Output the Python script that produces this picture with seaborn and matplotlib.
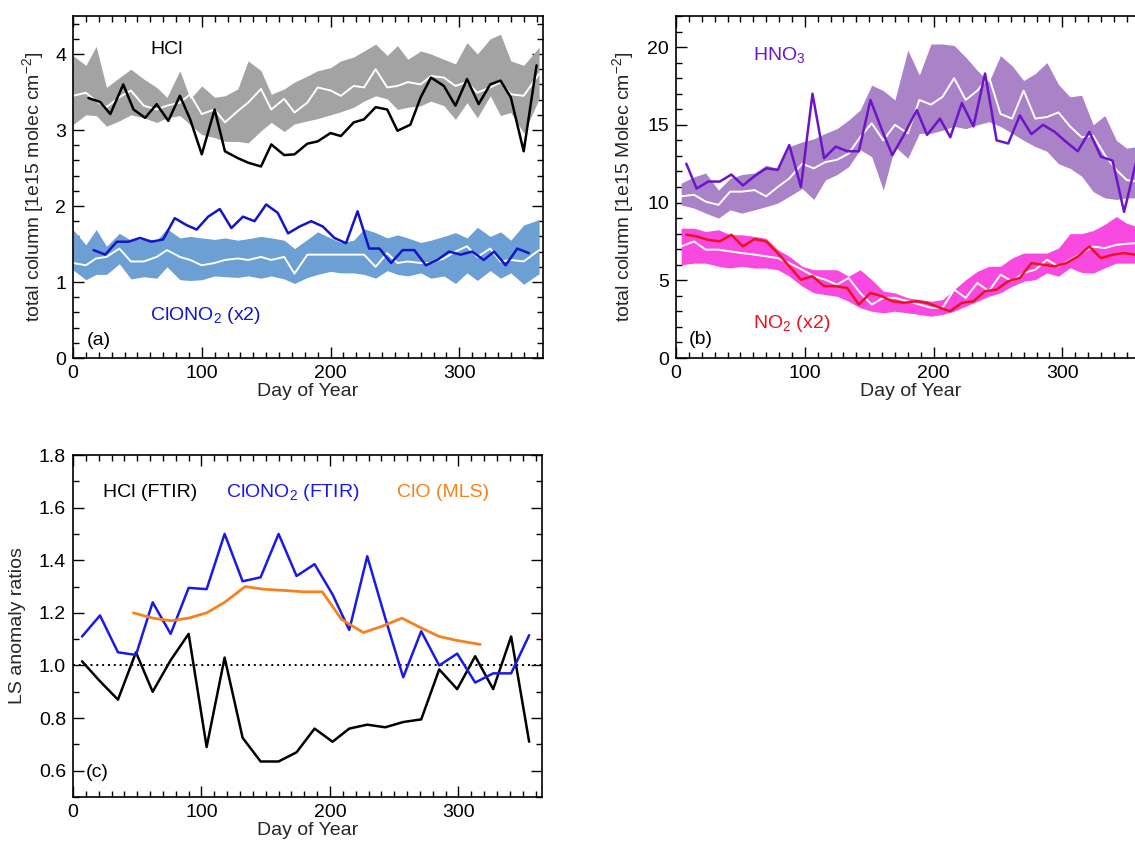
import matplotlib
matplotlib.use("Agg")
import matplotlib.pyplot as plt
import seaborn as sns
from matplotlib.ticker import MultipleLocator

# ---------------- Panel (a): HCl and ClONO2 ----------------
band_days_a = [0, 10, 18, 26, 36, 45, 55, 65, 73, 83, 91, 100, 110, 118, 128, 136, 146, 154, 164, 172,
               182, 190, 200, 208, 218, 226, 235, 244, 252, 260, 270, 278, 288, 297, 306, 314, 324, 332, 340, 350, 362]
hcl_upper = [3.98, 3.85, 4.10, 3.56, 3.69, 3.80, 3.67, 3.56, 3.43, 3.78, 3.41, 3.58, 3.43, 3.45, 3.54, 3.91, 3.78, 3.47, 3.54, 3.63,
             3.71, 3.78, 3.82, 3.91, 3.96, 4.04, 4.13, 3.98, 4.11, 3.93, 4.04, 4.00, 3.93, 3.87, 4.15, 4.00, 4.20, 4.26, 3.91, 3.85, 4.09]
hcl_lower = [3.07, 3.20, 3.19, 3.05, 3.12, 3.20, 3.16, 3.10, 3.16, 3.19, 3.07, 2.94, 2.90, 2.85, 2.85, 2.83, 2.99, 3.10, 2.98, 3.08,
             3.12, 3.15, 3.20, 3.24, 3.30, 3.38, 3.45, 3.41, 3.27, 3.30, 3.32, 3.38, 3.32, 3.14, 3.36, 3.16, 3.45, 3.19, 3.23, 2.96, 3.41]
hcl_mean = [3.45, 3.49, 3.38, 3.30, 3.43, 3.52, 3.32, 3.27, 3.32, 3.36, 3.47, 3.21, 3.27, 3.10, 3.25, 3.36, 3.54, 3.27, 3.41, 3.23,
            3.36, 3.56, 3.52, 3.45, 3.58, 3.56, 3.80, 3.56, 3.58, 3.63, 3.60, 3.71, 3.69, 3.58, 3.63, 3.49, 3.56, 3.63, 3.47, 3.45, 3.74]
clono2_upper = [1.69, 1.49, 1.69, 1.47, 1.64, 1.55, 1.57, 1.55, 1.70, 1.58, 1.60, 1.58, 1.56, 1.58, 1.55, 1.57, 1.60, 1.58, 1.55, 1.44,
                1.56, 1.66, 1.58, 1.52, 1.55, 1.70, 1.65, 1.58, 1.62, 1.58, 1.52, 1.55, 1.60, 1.65, 1.58, 1.72, 1.60, 1.66, 1.55, 1.75, 1.82]
clono2_lower = [1.16, 1.03, 1.10, 1.10, 1.24, 1.04, 1.07, 1.05, 1.20, 1.03, 1.02, 1.03, 1.08, 1.07, 1.06, 1.08, 1.05, 1.08, 1.04, 0.98,
                1.06, 1.10, 1.14, 1.12, 1.12, 1.10, 1.05, 1.15, 1.10, 1.08, 1.12, 1.05, 1.08, 0.98, 1.12, 1.02, 1.15, 1.05, 1.12, 0.97, 1.11]
clono2_mean = [1.25, 1.22, 1.31, 1.33, 1.44, 1.27, 1.27, 1.33, 1.42, 1.33, 1.29, 1.22, 1.25, 1.29, 1.31, 1.29, 1.33, 1.29, 1.33, 1.11,
               1.36, 1.36, 1.36, 1.36, 1.36, 1.36, 1.20, 1.38, 1.25, 1.27, 1.25, 1.25, 1.31, 1.40, 1.47, 1.33, 1.44, 1.27, 1.29, 1.27, 1.42]

hcl_days = [12, 21, 29, 39, 47, 56, 65, 74, 83, 91, 100, 110, 118, 128, 136, 146, 154, 164, 172, 182,
            190, 200, 208, 218, 226, 235, 244, 252, 262, 270, 278, 288, 297, 306, 315, 324, 332, 340, 350, 360]
hcl_2020 = [3.42, 3.37, 3.21, 3.60, 3.27, 3.16, 3.34, 3.12, 3.45, 3.14, 2.68, 3.27, 2.72, 2.63, 2.57, 2.52, 2.81, 2.67, 2.68, 2.82,
            2.85, 2.96, 2.92, 3.10, 3.14, 3.30, 3.27, 2.99, 3.07, 3.43, 3.69, 3.58, 3.32, 3.67, 3.34, 3.60, 3.65, 3.43, 2.72, 3.85]
clono2_days = [16, 25, 34, 43, 52, 61, 70, 79, 88, 96, 105, 114, 123, 132, 141, 150, 159, 167, 176, 185,
               194, 203, 212, 221, 230, 238, 247, 256, 265, 274, 283, 292, 301, 310, 319, 327, 336, 345, 354]
clono2_2020 = [1.42, 1.36, 1.53, 1.53, 1.58, 1.53, 1.56, 1.84, 1.75, 1.69, 1.86, 1.96, 1.71, 1.86, 1.80, 2.02, 1.91, 1.64, 1.73, 1.80,
               1.73, 1.58, 1.51, 1.93, 1.44, 1.44, 1.25, 1.42, 1.42, 1.22, 1.29, 1.40, 1.36, 1.40, 1.29, 1.40, 1.22, 1.44, 1.38]

# ---------------- Panel (b): HNO3 and NO2 ----------------
band_days_b = [4, 14, 23, 33, 42, 51, 61, 70, 79, 88, 98, 107, 116, 125, 134, 143, 152, 161, 170, 180,
               189, 198, 207, 216, 225, 234, 243, 252, 261, 270, 279, 288, 297, 306, 315, 324, 333, 342, 350, 358]
hno3_upper = [11.25, 11.65, 11.9, 10.8, 11.55, 11.8, 11.9, 12.4, 12.2, 13.6, 13.9, 14.1, 14.45, 14.75, 15.3, 15.95, 17.55, 17.2, 16.6, 19.8,
              18.2, 20.2, 20.2, 20.1, 19.35, 18.5, 17.75, 19.45, 18.8, 17.85, 18.3, 19.0, 17.6, 16.8, 16.9, 15.0, 15.6, 14.0, 13.5, 13.6]
hno3_lower = [9.85, 9.64, 9.32, 9.0, 9.53, 9.32, 9.53, 9.74, 9.96, 10.4, 10.9, 10.2, 11.45, 11.8, 12.3, 13.4, 12.95, 10.8, 13.6, 12.85,
              14.45, 14.45, 14.65, 14.9, 14.75, 15.0, 15.2, 14.9, 14.45, 14.0, 13.6, 13.3, 12.5, 12.2, 11.7, 10.7, 10.3, 10.2, 10.3, 10.3]
hno3_mean = [10.4, 10.5, 10.06, 9.85, 10.7, 10.7, 10.8, 10.4, 11.0, 11.55, 12.5, 12.2, 12.6, 12.75, 13.15, 14.2, 15.1, 14.0, 15.0, 14.45,
             16.6, 16.3, 16.8, 18.0, 16.6, 17.2, 18.1, 15.7, 15.4, 17.2, 15.4, 15.5, 15.8, 14.9, 14.2, 14.3, 13.06, 12.1, 11.45, 11.35]
no2_upper = [8.35, 8.35, 8.14, 8.25, 7.93, 7.93, 7.82, 7.7, 6.97, 6.54, 5.9, 5.68, 5.68, 5.68, 5.26, 5.68, 5.04, 4.3, 4.19, 3.87,
             3.76, 3.65, 3.76, 4.4, 5.04, 5.58, 5.9, 5.9, 6.43, 6.75, 6.75, 6.75, 7.07, 8.0, 8.0, 8.2, 8.6, 9.1, 8.67, 8.45]
no2_lower = [6.0, 6.1, 6.1, 5.9, 5.79, 5.9, 5.79, 5.79, 5.68, 5.26, 4.62, 4.19, 4.08, 3.97, 3.65, 3.23, 3.01, 2.9, 3.01, 2.9,
             2.8, 2.69, 2.8, 3.01, 3.33, 3.65, 3.97, 4.19, 4.62, 4.94, 5.04, 5.47, 5.26, 5.8, 5.5, 5.46, 5.8, 6.1, 6.1, 6.1]
no2_mean = [7.18, 7.5, 6.97, 6.97, 6.86, 6.75, 6.65, 6.54, 6.43, 6.1, 5.68, 5.26, 5.04, 4.72, 5.15, 4.19, 3.44, 3.87, 3.87, 3.65,
            3.44, 3.23, 3.23, 4.4, 3.87, 4.83, 4.3, 5.36, 4.94, 5.47, 5.68, 6.32, 5.9, 6.3, 6.75, 7.17, 7.07, 7.28, 7.35, 7.39]

line_days_b = [8, 16, 25, 34, 43, 52, 61, 70, 79, 88, 97, 106, 115, 124, 133, 142, 151, 160, 168, 177,
               187, 195, 205, 213, 222, 231, 240, 249, 258, 267, 276, 285, 294, 303, 312, 321, 330, 339, 348, 357]
hno3_2020 = [12.5, 10.9, 11.35, 11.35, 11.8, 11.1, 11.7, 12.2, 12.1, 13.7, 11.0, 17.0, 12.85, 13.6, 13.3, 13.3, 16.6, 14.65, 13.05, 14.35,
             15.95, 14.35, 15.4, 14.2, 16.4, 14.9, 18.3, 14.0, 13.8, 15.6, 14.4, 15.0, 14.55, 13.9, 13.3, 14.55, 12.95, 12.7, 9.4, 12.5]
no2_2020 = [7.93, 7.82, 7.6, 7.5, 7.93, 7.18, 7.65, 7.5, 6.75, 5.9, 5.04, 5.26, 4.62, 4.62, 4.5, 3.44, 4.19, 3.97, 3.65, 3.55,
            3.65, 3.55, 3.23, 3.01, 3.55, 3.65, 4.3, 4.4, 4.94, 5.15, 6.1, 6.0, 5.9, 6.1, 6.53, 7.17, 6.42, 6.64, 6.75, 6.64]

# ---------------- Panel (c): LS anomaly ratios ----------------
ratio_days = [7, 21, 35, 49, 62, 76, 90, 104, 118, 132, 146, 160, 174, 188, 202, 215, 229, 243, 257, 271, 285, 299, 313, 327, 341, 355]
hcl_ratio = [1.016, 0.94, 0.87, 1.05, 0.90, 1.02, 1.12, 0.69, 1.03, 0.725, 0.635, 0.635, 0.67, 0.76, 0.71, 0.76, 0.775, 0.765,
             0.785, 0.795, 0.985, 0.91, 1.035, 0.91, 1.11, 0.71]
clono2_ratio = [1.11, 1.19, 1.05, 1.04, 1.24, 1.12, 1.295, 1.29, 1.50, 1.32, 1.335, 1.50, 1.34, 1.385, 1.27, 1.135, 1.415, 1.18,
                0.955, 1.13, 1.00, 1.045, 0.935, 0.97, 0.97, 1.115]
clo_days = [47, 62, 76, 90, 104, 118, 134, 148, 165, 179, 194, 209, 226, 241, 256, 270, 285, 299, 317]
clo_ratio = [1.20, 1.18, 1.17, 1.18, 1.20, 1.24, 1.30, 1.29, 1.285, 1.28, 1.28, 1.175, 1.125, 1.15, 1.18, 1.145, 1.11, 1.095, 1.08]

# ---------------- styling ----------------
sns.set_theme(style="ticks")
plt.rcParams['font.family'] = ['Liberation Sans', 'DejaVu Sans']
plt.rcParams['mathtext.fontset'] = 'custom'
plt.rcParams['mathtext.rm'] = 'Liberation Sans'
plt.rcParams['mathtext.it'] = 'Liberation Sans:italic'
plt.rcParams['mathtext.bf'] = 'Liberation Sans:bold'

FS = 14
W, H = 1135, 846
fig = plt.figure(figsize=(W / 100, H / 100), dpi=100)


def add_axes(l, t, r, b):
    return fig.add_axes([l / W, 1 - b / H, (r - l) / W, (b - t) / H])


axa = add_axes(73, 16, 543, 358)
axb = add_axes(676, 16, 1146, 358)
axc = add_axes(73, 455, 542, 797)


def style(ax, ylim, ymaj, ymin):
    ax.set_xlim(0, 365)
    ax.set_ylim(*ylim)
    ax.xaxis.set_major_locator(MultipleLocator(100))
    ax.xaxis.set_minor_locator(MultipleLocator(10))
    ax.yaxis.set_major_locator(MultipleLocator(ymaj))
    ax.yaxis.set_minor_locator(MultipleLocator(ymin))
    ax.tick_params(which='both', direction='in', top=True, right=True,
                   labelsize=FS, colors='black', width=1.0)
    ax.tick_params(which='major', length=8, pad=5)
    ax.tick_params(which='minor', length=4)
    for s in ax.spines.values():
        s.set_linewidth(1.2)
        s.set_color('black')
    ax.set_xlabel('Day of Year', fontsize=FS, labelpad=1)


def band(ax, days, lo, hi, mean, color):
    ax.fill_between(days, lo, hi, color=color, lw=0, zorder=1)
    sns.lineplot(x=days, y=mean, ax=ax, color='white', lw=1.4, estimator=None, sort=False, zorder=2)


def line(ax, days, vals, color, lw=1.8):
    sns.lineplot(x=days, y=vals, ax=ax, color=color, lw=lw, estimator=None, sort=False, zorder=3)


# Panel (a)
band(axa, band_days_a, hcl_lower, hcl_upper, hcl_mean, '#a3a3a3')
band(axa, band_days_a, clono2_lower, clono2_upper, clono2_mean, '#6c9fd4')
line(axa, hcl_days, hcl_2020, 'black')
line(axa, clono2_days, clono2_2020, '#1414c8')
style(axa, (0, 4.5), 1, 0.2)
axa.set_ylabel('total column [1e15 molec cm$^{-2}$]', fontsize=FS)
axa.yaxis.set_label_coords(-0.058, 0.5)
axa.text(60, 4.0, 'HCl', fontsize=FS, color='black', va='baseline')
axa.text(60, 0.5, 'ClONO$_2$ (x2)', fontsize=FS, color='#1414c8', va='baseline')
axa.text(11, 0.17, '(a)', fontsize=FS, color='black', va='baseline')

# Panel (b)
band(axb, band_days_b, hno3_lower, hno3_upper, hno3_mean, '#aa82c8')
band(axb, band_days_b, no2_lower, no2_upper, no2_mean, '#f84ae0')
line(axb, line_days_b, hno3_2020, '#6e14c8')
line(axb, line_days_b, no2_2020, '#e8141e')
style(axb, (0, 22), 5, 1)
axb.set_ylabel('total column [1e15 Molec cm$^{-2}$]', fontsize=FS)
axb.yaxis.set_label_coords(-0.085, 0.5)
axb.text(60, 19.2, 'HNO$_3$', fontsize=FS, color='#6e14c8', va='baseline')
axb.text(60, 1.95, 'NO$_2$ (x2)', fontsize=FS, color='#e8141e', va='baseline')
axb.text(10, 0.9, '(b)', fontsize=FS, color='black', va='baseline')

# Panel (c)
axc.axhline(1.0, color='black', lw=1.4, ls=(0, (1, 2)), zorder=1)
line(axc, ratio_days, hcl_ratio, 'black')
line(axc, ratio_days, clono2_ratio, '#1a1ae6')
line(axc, clo_days, clo_ratio, '#f5821f', lw=2.0)
style(axc, (0.5, 1.8), 0.2, 0.1)
axc.set_ylabel('LS anomaly ratios', fontsize=FS)
axc.yaxis.set_label_coords(-0.100, 0.5)
axc.text(23, 1.64, 'HCl (FTIR)', fontsize=FS, color='black', va='baseline')
axc.text(119, 1.64, 'ClONO$_2$ (FTIR)', fontsize=FS, color='#1a1ae6', va='baseline')
axc.text(252, 1.64, 'ClO (MLS)', fontsize=FS, color='#f5821f', va='baseline')
axc.text(10, 0.575, '(c)', fontsize=FS, color='black', va='baseline')

fig.savefig('out.png', dpi=100)
